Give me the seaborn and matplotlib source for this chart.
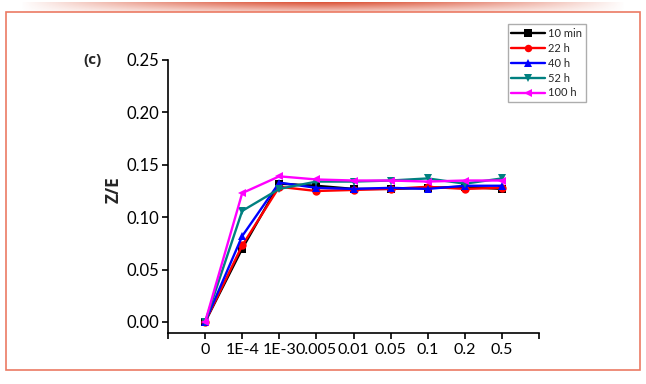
import numpy as np
import pandas as pd
import matplotlib
matplotlib.use("Agg")
import matplotlib.pyplot as plt
from matplotlib.patches import Rectangle
import seaborn as sns

categories = ["0", "1E-4", "1E-3", "0.005", "0.01", "0.05", "0.1", "0.2", "0.5"]
series_names = ["10 min", "22 h", "40 h", "52 h", "100 h"]
v_10min = [0.000, 0.070, 0.132, 0.130, 0.127, 0.127, 0.128, 0.129, 0.127]
v_22h   = [0.000, 0.073, 0.129, 0.125, 0.126, 0.127, 0.129, 0.127, 0.128]
v_40h   = [0.000, 0.082, 0.133, 0.128, 0.127, 0.128, 0.127, 0.130, 0.130]
v_52h   = [0.000, 0.106, 0.127, 0.134, 0.134, 0.135, 0.137, 0.132, 0.137]
v_100h  = [0.000, 0.123, 0.139, 0.136, 0.135, 0.135, 0.134, 0.135, 0.135]
y_ticks = [0.00, 0.05, 0.10, 0.15, 0.20, 0.25]

values = [v_10min, v_22h, v_40h, v_52h, v_100h]
rows = []
for name, vals in zip(series_names, values):
    for i, v in enumerate(vals):
        rows.append({"pos": i, "series": name, "value": v})
df = pd.DataFrame(rows)

sns.set_theme(style="ticks")
plt.rcParams["font.family"] = ["Lato", "DejaVu Sans"]

fig = plt.figure(figsize=(6.46, 3.84), dpi=100)
W, H = 646, 384
ax = fig.add_axes([168 / W, 1 - 333 / H, (539 - 168) / W, (333 - 60) / H])

palette = {"10 min": "#000000", "22 h": "#ff0000", "40 h": "#0000ff",
           "52 h": "#008080", "100 h": "#ff00ff"}
markers = {"10 min": "s", "22 h": "o", "40 h": "^", "52 h": "v", "100 h": "<"}

sns.lineplot(data=df, x="pos", y="value", hue="series", style="series",
             hue_order=series_names, style_order=series_names,
             palette=palette, markers=markers, dashes=False,
             markersize=6, linewidth=1.7, markeredgewidth=0, ax=ax)

ax.set_xlim(-1, 9)
ax.set_ylim(-0.0105, 0.25)
ax.set_xticks(range(-1, 10))
ax.set_xticklabels([""] + categories + [""])
ax.set_yticks(y_ticks)
ax.set_yticklabels([f"{t:.2f}" for t in y_ticks])
ax.tick_params(axis="both", direction="out", length=4, width=1.2,
               labelsize=12, colors="black", pad=2)
ax.tick_params(axis="x", labelsize=11.5, pad=3)
for s in ["top", "right"]:
    ax.spines[s].set_visible(False)
for s in ["left", "bottom"]:
    ax.spines[s].set_linewidth(1.2)
    ax.spines[s].set_color("black")
ax.set_xlabel("")
ax.set_ylabel("")

leg = ax.legend(loc="upper right", bbox_to_anchor=(586 / W, 1 - 24 / H),
                bbox_transform=fig.transFigure, fontsize=8, frameon=True,
                fancybox=False, edgecolor="#999999", handlelength=3,
                handletextpad=0.3, labelspacing=0.35, borderpad=0.35,
                borderaxespad=0, markerscale=0.9)
leg.get_frame().set_linewidth(1.0)
for line in leg.get_lines():
    line.set_linewidth(1.7)

fig.text(92 / W, 1 - 60 / H, "(c)", fontsize=11, fontweight="bold",
         family=["Open Sans", "DejaVu Sans"], ha="center", va="center")
fig.text(114 / W, 1 - 190 / H, "Z/E", fontsize=12.5, fontweight="bold",
         family=["Open Sans", "DejaVu Sans"], ha="center", va="center",
         rotation=90)

# decorative frame
fig.patches.append(Rectangle((6 / W, 1 - 370 / H), (640 - 6) / W, (370 - 12) / H,
                             transform=fig.transFigure, fill=False,
                             edgecolor="#eb7a63", linewidth=1.2))
# top gradient band
gax = fig.add_axes([20 / W, 1 - 12 / H, 606 / W, 10 / H])
xg = np.linspace(-1, 1, 400)
yg = np.linspace(-1, 1, 20)
XX, YY = np.meshgrid(xg, yg)
alpha = np.clip((1 - np.abs(XX) ** 1.5), 0, 1) * np.clip(0.3 + 0.7 * (YY + 1) / 2, 0, 1)
img = np.zeros((20, 400, 4))
img[..., 0] = 0.86
img[..., 1] = 0.33
img[..., 2] = 0.22
img[..., 3] = alpha
gax.imshow(img, aspect="auto", origin="lower", extent=(0, 1, 0, 1))
gax.axis("off")

fig.savefig("out.png", dpi=100)
